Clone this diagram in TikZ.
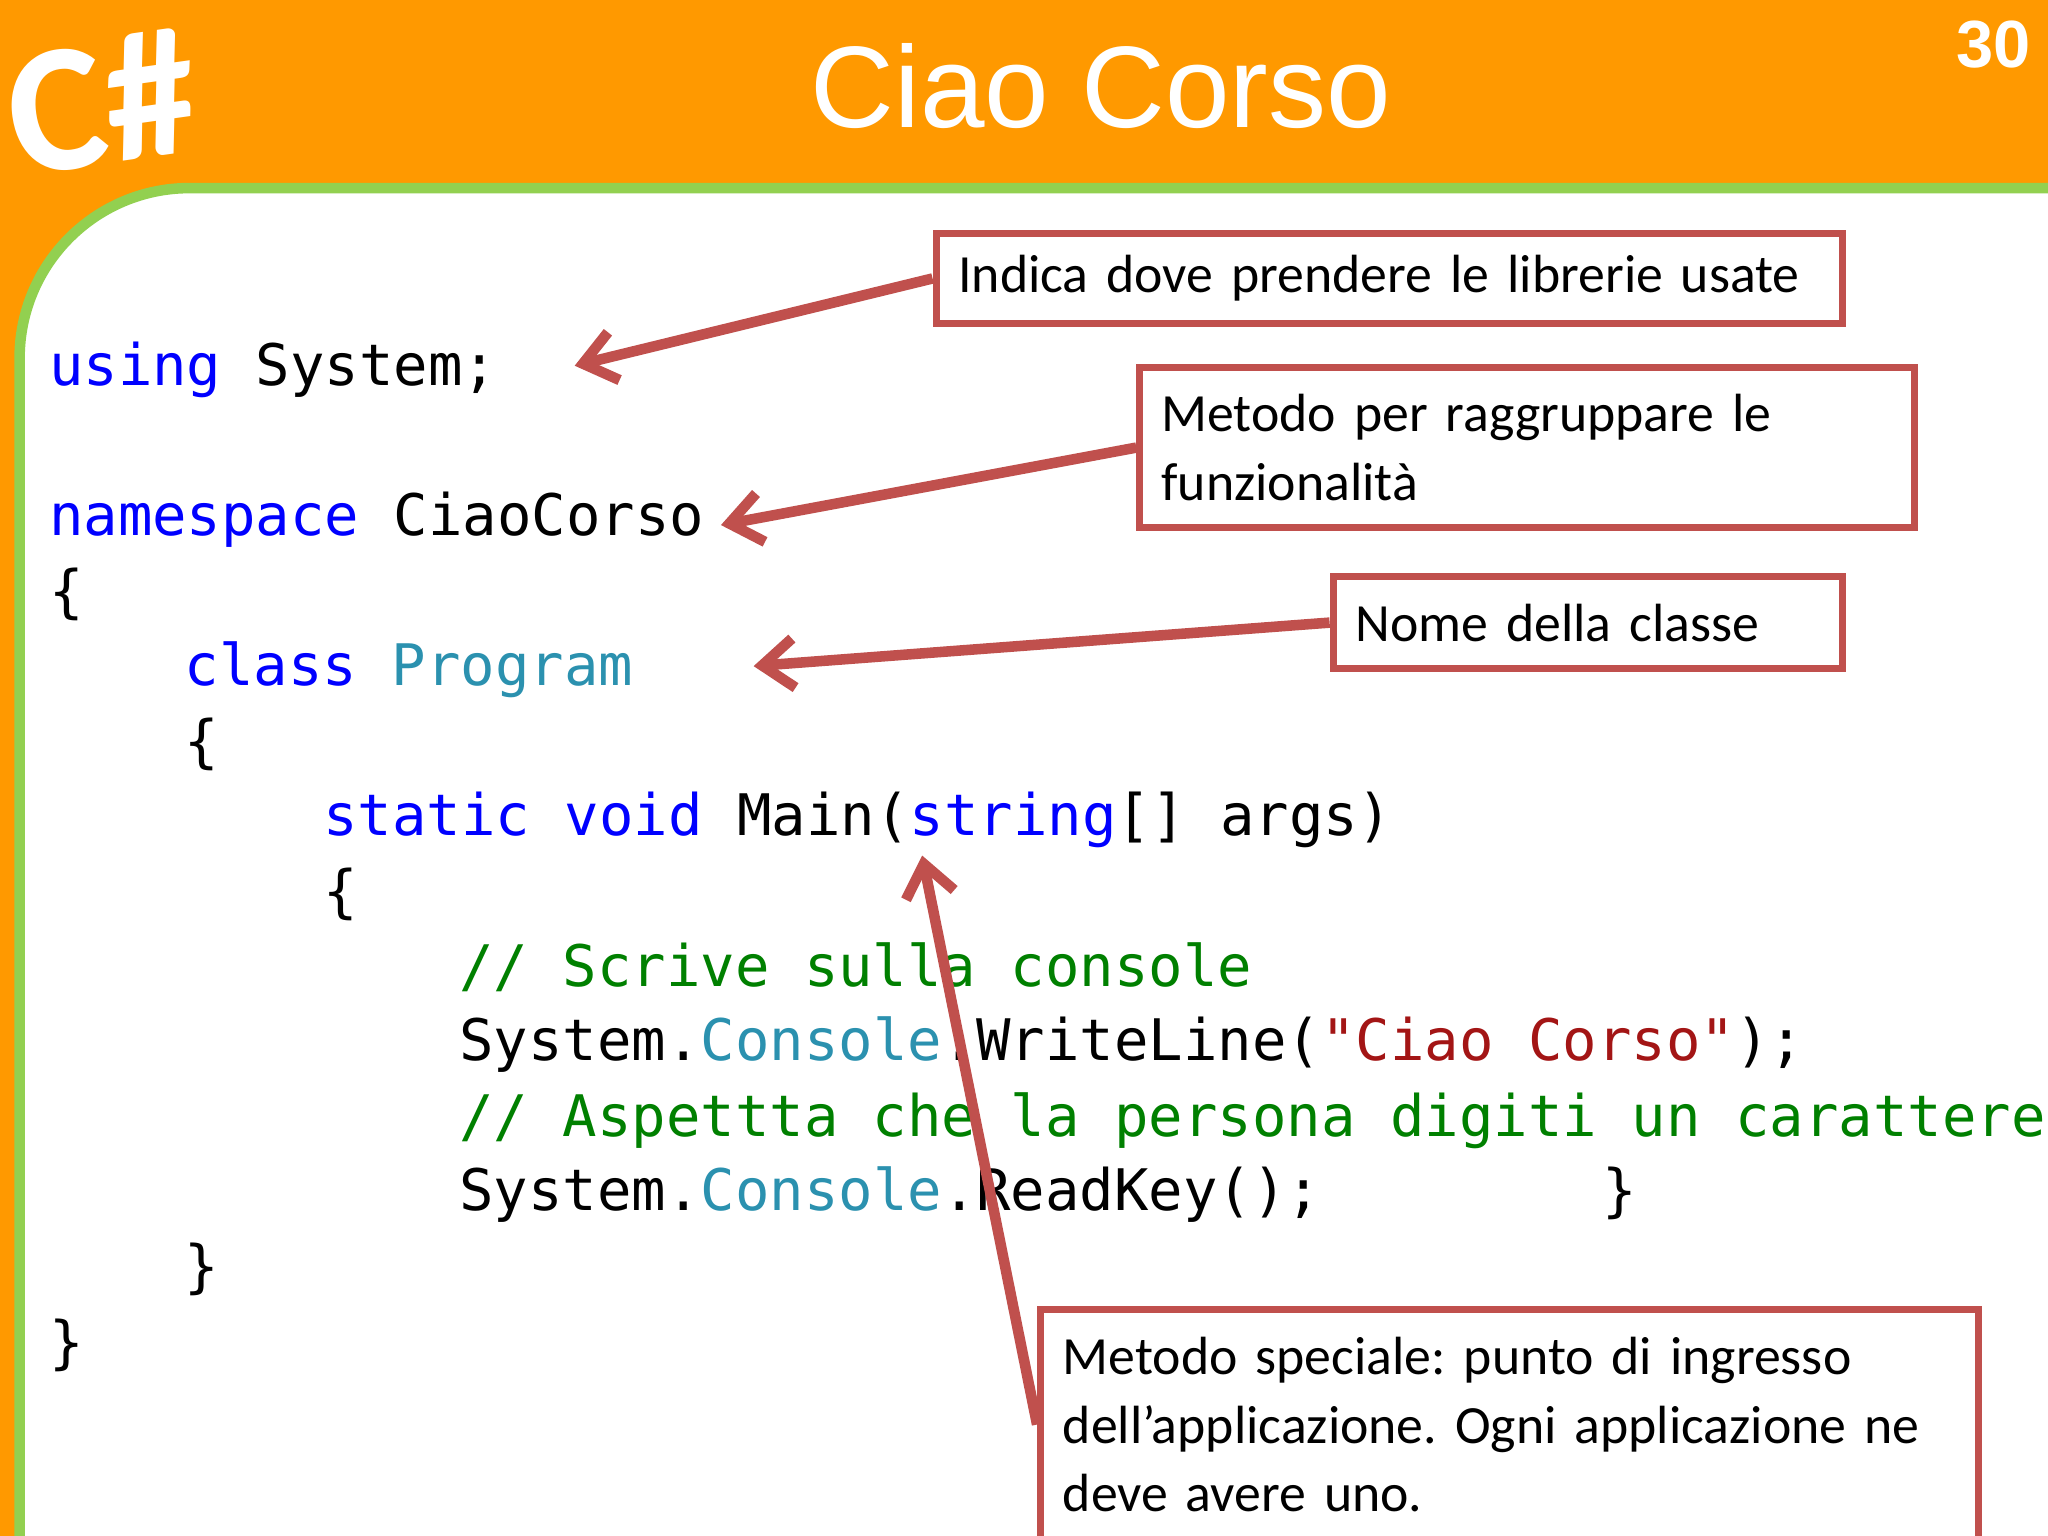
\documentclass[tikz,border=0pt]{standalone}
\usepackage{fontspec}
\setmainfont{Carlito}
\setsansfont{Liberation Sans}
\setmonofont{DejaVu Sans Mono}
\usetikzlibrary{arrows.meta}
\definecolor{org}{RGB}{255,153,0}
\definecolor{grn}{RGB}{146,208,80}
\definecolor{kw}{RGB}{0,0,255}
\definecolor{ty}{RGB}{43,145,175}
\definecolor{cm}{RGB}{0,128,0}
\definecolor{st}{RGB}{163,21,21}
\definecolor{rd}{RGB}{192,80,77}
\tikzset{
  code/.style={anchor=base west,inner sep=0pt,font=\ttfamily\fontsize{16.3}{18}\selectfont},
  box/.style={draw=rd,line width=2pt,fill=white,anchor=north west,align=left,inner xsep=6pt,
     font=\frenchspacing\fontsize{15.3}{19.4}\selectfont},
  arr/.style={draw=rd,line width=3pt,-{Straight Barb[length=9pt,width=14pt]}}
}
\begin{document}
\begin{tikzpicture}[x=0.01306cm,y=-0.01306cm]
\useasboundingbox (0,0) rectangle (1568,1176);
\fill[org] (0,0) rectangle (1568,1176);
\draw[grn,line width=3pt,fill=white] (15,1190) [rounded corners=1.7cm] -- (15,144) [sharp corners] -- (1590,144) -- (1590,1190) -- cycle;
\node[text=white,font=\sffamily\fontsize{33}{36}\selectfont] (title) at (843,66) {Ciao Corso};
\node[text=white,font=\bfseries\fontsize{52}{56}\selectfont,rotate=8] (cs) at (78,78) {C\#};
\node[text=white,font=\sffamily\bfseries\fontsize{19}{20}\selectfont] (num) at (1526,34) {30};
% code
\node[code] (l1) at (37,295) {\textcolor{kw}{using} System;};
\node[code] (l2) at (37,410) {\textcolor{kw}{namespace} CiaoCorso};
\node[code] (l3) at (37,468) {\{};
\node[code] (l4) at (141,525) {\textcolor{kw}{class} \textcolor{ty}{Program}};
\node[code] (l5) at (141,583) {\{};
\node[code] (l6) at (247,640) {\textcolor{kw}{static} \textcolor{kw}{void} Main(\textcolor{kw}{string}[] args)};
\node[code] (l7) at (247,698) {\{};
\node[code] (l8) at (351,755) {\textcolor{cm}{// Scrive sulla console}};
\node[code] (l9) at (351,812) {System.\textcolor{ty}{Console}.WriteLine(\textcolor{st}{"Ciao Corso"});};
\node[code] (l10) at (351,870) {\textcolor{cm}{// Aspettta che la persona digiti un carattere}};
\node[code] (l11) at (351,927) {System.\textcolor{ty}{Console}.ReadKey();};
\node[code] (l11b) at (1226,927) {\}};
\node[code] (l12) at (141,985) {\}};
\node[code] (l13) at (37,1043) {\}};
% callouts
\node[box,minimum width={694*0.01306cm},minimum height={69*0.01306cm},text width={660*0.01306cm}] (b1) at (714,176) {Indica dove prendere le librerie usate};
\node[box,minimum width={593*0.01306cm},minimum height={122*0.01306cm},text width={560*0.01306cm}] (b2) at (870,279) {Metodo per raggruppare le\\funzionalità};
\node[box,minimum width={390*0.01306cm},minimum height={70*0.01306cm},text width={356*0.01306cm}] (b3) at (1018,439) {Nome della classe};
\node[box,minimum width={718*0.01306cm},minimum height={176*0.01306cm},text width={684*0.01306cm}] (b4) at (794,1000) {Metodo speciale: punto di ingresso\\dell’applicazione. Ogni applicazione ne\\deve avere uno.};
\coordinate (t1) at (440,280);
\coordinate (t2) at (552,402);
\coordinate (t3) at (577,510);
\coordinate (t4) at (706,655);
\draw[arr] (b1.west) -- (t1);
\draw[arr] (b2.west) -- (t2);
\draw[arr] (b3.west) -- (t3);
\draw[arr] (b4.west) -- (t4);
\end{tikzpicture}
\end{document}
